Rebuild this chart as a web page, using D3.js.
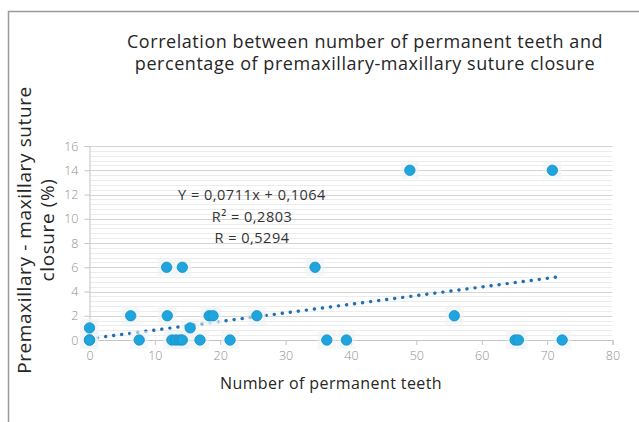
<!DOCTYPE html>
<html lang="en">
<head>
    <meta charset="utf-8">
    <title>Teeth vs suture closure</title>
    <script src="https://d3js.org/d3.v7.min.js"></script>
    <style>
        html, body {
            margin: 0;
            padding: 0;
            background: #fff;
        }
        text {
            font-family: "Open Sans", sans-serif;
        }
        .tick text {
            fill: #8f8f8f;
            font-size: 12.5px;
        }
    </style>
</head>
<body>
<script type="text/javascript">

    // data
    var teeth   = [0, 0, 0, 6.3, 7.6, 11.8, 11.9, 12.6, 13.2, 13.8, 14.2, 14.2, 15.4, 16.9, 18.3, 18.9, 21.5, 25.6, 34.5, 36.3, 39.3, 49.0, 55.8, 65.1, 65.6, 70.8, 72.3];
    var closure = [1, 0, 0, 2,   0,   6,    2,    0,    0,    0,    0,    6,    1,    0,    2,    2,    0,    2,    6,    0,    0,    14,   2,    0,    0,    14,   0];

    var xTicks = [0, 10, 20, 30, 40, 50, 60, 70, 80];
    var yTicks = [0, 2, 4, 6, 8, 10, 12, 14, 16];

    var slope = 0.0711, intercept = 0.1064;
    var fitLines = ["Y = 0,0711x + 0,1064", "R\u00b2 = 0,2803", "R = 0,5294"];

    var w = 639, h = 422;
    var plotL = 89.5, plotR = 612.5, plotT = 146, plotB = 340;

    var svg = d3.select("body").append("svg")
        .attr("width", w)
        .attr("height", h);

    // outer frame (only top and left edges show)
    svg.append("path")
        .attr("d", "M8.5," + h + "V11.5H" + w)
        .attr("fill", "none")
        .attr("stroke", "#9a9a9a")
        .attr("stroke-width", 1.5);

    var xScale = d3.scaleLinear().domain([0, 80]).range([plotL, plotR]);
    var yScale = d3.scaleLinear().domain([0, 16]).range([plotB, plotT]);

    // minor grid
    svg.append("g")
        .selectAll("line")
        .data(d3.range(0, 16.01, 0.4))
        .enter().append("line")
        .attr("x1", plotL).attr("x2", plotR)
        .attr("y1", function(d) { return Math.round(yScale(d)) + 0.5; })
        .attr("y2", function(d) { return Math.round(yScale(d)) + 0.5; })
        .attr("stroke", "#ececec");

    // major grid
    svg.append("g")
        .selectAll("line")
        .data(yTicks.slice(1))
        .enter().append("line")
        .attr("x1", plotL).attr("x2", plotR)
        .attr("y1", function(d) { return Math.round(yScale(d)) + 0.5; })
        .attr("y2", function(d) { return Math.round(yScale(d)) + 0.5; })
        .attr("stroke", "#d4d4d4");

    var xAxis = d3.axisBottom(xScale).tickValues(xTicks).tickSize(5).tickPadding(6);
    var yAxis = d3.axisLeft(yScale).tickValues(yTicks).tickSize(5).tickPadding(6);

    var gx = svg.append("g")
        .attr("transform", "translate(0," + plotB + ")")
        .call(xAxis);
    var gy = svg.append("g")
        .attr("transform", "translate(" + plotL + ",0)")
        .call(yAxis);

    [gx, gy].forEach(function(g) {
        g.select(".domain").attr("stroke", "#c4c4c4");
        g.selectAll(".tick line").attr("stroke", "#c4c4c4");
        g.selectAll(".tick text").attr("font-family", "Open Sans").attr("font-weight", 300);
    });

    // trendline, dotted
    svg.append("line")
        .attr("x1", xScale(0)).attr("y1", yScale(intercept))
        .attr("x2", xScale(72.4)).attr("y2", yScale(slope * 72.4 + intercept))
        .attr("stroke", "#1f6fb5")
        .attr("stroke-width", 3.4)
        .attr("stroke-linecap", "round")
        .attr("stroke-dasharray", "0.1 8");

    var pts = d3.range(teeth.length);

    // faint glow behind markers
    svg.append("g")
        .selectAll("rect")
        .data(pts)
        .enter().append("rect")
        .attr("x", function(i) { return xScale(teeth[i]) - 9; })
        .attr("y", function(i) { return yScale(closure[i]) - 9; })
        .attr("width", 18).attr("height", 18)
        .attr("fill", "#eef3f5")
        .attr("opacity", 0.6);

    svg.append("g")
        .selectAll("circle")
        .data(pts)
        .enter().append("circle")
        .attr("cx", function(i) { return xScale(teeth[i]); })
        .attr("cy", function(i) { return yScale(closure[i]); })
        .attr("r", 5.2)
        .attr("fill", "#1ea5de")
        .attr("stroke", "#178fc6")
        .attr("stroke-width", 0.8);

    // equation box
    svg.append("g")
        .selectAll("text")
        .data(fitLines)
        .enter().append("text")
        .attr("x", 252)
        .attr("y", function(d, i) { return 200 + i * 21.5; })
        .attr("text-anchor", "middle")
        .attr("font-size", 14.5)
        .attr("letter-spacing", 0.5)
        .attr("fill", "#333")
        .text(function(d) { return d; });

    // title
    svg.append("text")
        .attr("x", 365)
        .attr("text-anchor", "middle")
        .attr("font-size", 18)
        .attr("letter-spacing", 0.55)
        .attr("fill", "#262626")
        .selectAll("tspan")
        .data(["Correlation between number of permanent teeth and", "percentage of premaxillary-maxillary suture closure"])
        .enter().append("tspan")
        .attr("x", 365)
        .attr("y", function(d, i) { return 48 + i * 21.5; })
        .text(function(d) { return d; });

    // axis titles
    svg.append("text")
        .attr("x", 331)
        .attr("y", 389)
        .attr("text-anchor", "middle")
        .attr("font-size", 16)
        .attr("letter-spacing", 0.4)
        .attr("fill", "#262626")
        .text("Number of permanent teeth");

    svg.append("text")
        .attr("transform", "translate(0,230) rotate(-90)")
        .attr("text-anchor", "middle")
        .attr("font-size", 19)
        .attr("letter-spacing", 0.6)
        .attr("fill", "#262626")
        .selectAll("tspan")
        .data(["Premaxillary - maxillary suture", "closure (%)"])
        .enter().append("tspan")
        .attr("x", 0)
        .attr("y", function(d, i) { return 31 + i * 23; })
        .text(function(d) { return d; });

</script>
</body>
</html>
